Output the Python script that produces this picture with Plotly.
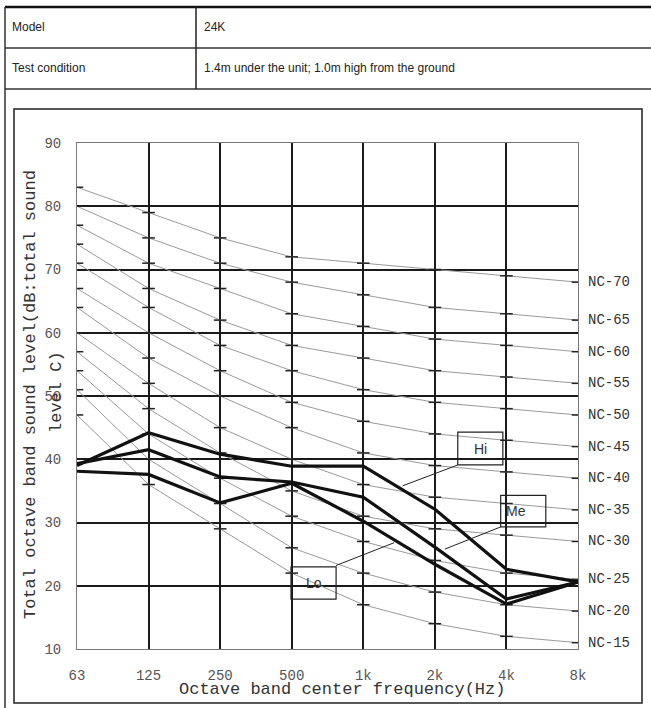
import plotly.graph_objects as go

# octave band centres
bands = ["63", "125", "250", "500", "1k", "2k", "4k", "8k"]

# measured levels per fan speed (dB)
hi_levels = [39.0, 44.2, 40.8, 38.9, 38.9, 32.1, 22.6, 20.6]
me_levels = [39.3, 41.5, 37.2, 36.4, 34.0, 26.1, 17.9, 20.6]
lo_levels = [38.1, 37.6, 33.1, 36.2, 30.2, 23.4, 17.1, 20.6]

# NC reference curves
nc_names = ["NC-15", "NC-20", "NC-25", "NC-30", "NC-35", "NC-40",
            "NC-45", "NC-50", "NC-55", "NC-60", "NC-65", "NC-70"]
nc_values = [
    [47, 36, 29, 22, 17, 14, 12, 11],
    [51, 40, 33, 26, 22, 19, 17, 16],
    [54, 44, 37, 31, 27, 24, 22, 21],
    [57, 48, 41, 35, 31, 29, 28, 27],
    [60, 52, 45, 40, 36, 34, 33, 32],
    [64, 56, 50, 45, 41, 39, 38, 37],
    [67, 60, 54, 49, 46, 44, 43, 42],
    [71, 64, 58, 54, 51, 49, 48, 47],
    [74, 67, 62, 58, 56, 54, 53, 52],
    [77, 71, 67, 63, 61, 59, 58, 57],
    [80, 75, 71, 68, 66, 64, 63, 62],
    [83, 79, 75, 72, 71, 70, 69, 68],
]

W, H = 651, 708
L, R, T, B = 77, 578, 143, 649
MONO = "Liberation Mono"


def px(x):
    return (x - L) / (R - L)


def py(y):
    return (B - y) / (B - T)


xs = list(range(len(bands)))
traces = []
for name, vals in zip(nc_names, nc_values):
    traces.append(go.Scatter(x=xs, y=vals, mode="lines", name=name,
                             line={"color": "#9a9a9a", "width": 1}))
    # little dashes on the vertical lines
    traces.append(go.Scatter(x=xs, y=vals, mode="markers",
                             marker={"symbol": "line-ew", "size": 9,
                                     "line": {"color": "#222", "width": 1.5}}))

for name, vals in [("Hi", hi_levels), ("Me", me_levels), ("Lo", lo_levels)]:
    traces.append(go.Scatter(x=xs, y=vals, mode="lines", name=name,
                             line={"color": "#111", "width": 3.2}))

fig = go.Figure(data=traces)

shapes = []
# page table / frame
line = lambda x0, y0, x1, y1, w, c: dict(type="line", xref="paper", yref="paper",
                                          x0=px(x0), y0=py(y0), x1=px(x1), y1=py(y1),
                                          line={"color": c, "width": w})
shapes.append(line(5, 7, 651, 7, 2.5, "#111"))
shapes.append(line(5, 48, 651, 48, 1.5, "#333"))
shapes.append(line(5, 89, 651, 89, 1.5, "#333"))
shapes.append(line(196, 7, 196, 89, 1.5, "#222"))
shapes.append(line(5, 7, 5, 708, 1.5, "#333"))
shapes.append(dict(type="rect", xref="paper", yref="paper",
                   x0=px(14), y0=py(109), x1=px(642), y1=py(703),
                   line={"color": "#222", "width": 1.5}))

# speed label boxes with leader lines (data coords)
boxes = [
    ("Hi", 5.32, 5.95, 39.1, 44.3, (5.32, 39.1), (4.55, 35.8), "center"),
    ("Me", 5.92, 6.55, 29.3, 34.3, (5.92, 29.3), (5.14, 25.8), "left"),
    ("Lo", 2.99, 3.62, 17.9, 23.0, (3.62, 23.2), (4.43, 26.8), "center"),
]
annotations = []
for text, x0, x1, y0, y1, p0, p1, align in boxes:
    shapes.append(dict(type="rect", xref="x", yref="y", x0=x0, x1=x1, y0=y0, y1=y1,
                       line={"color": "#222", "width": 1.2}, fillcolor="rgba(0,0,0,0)"))
    shapes.append(dict(type="line", xref="x", yref="y", x0=p0[0], y0=p0[1],
                       x1=p1[0], y1=p1[1], line={"color": "#222", "width": 1}))
    annotations.append(dict(x=(x0 + 0.05) if align == "left" else (x0 + x1) / 2,
                            y=(y0 + y1) / 2, xref="x", yref="y", text=text,
                            showarrow=False,
                            xanchor="left" if align == "left" else "center",
                            font={"family": "Liberation Sans", "size": 14, "color": "#333"}))

for name, vals in zip(nc_names, nc_values):
    annotations.append(dict(x=7, y=vals[-1], xref="x", yref="y", text=name,
                            showarrow=False, xanchor="left", xshift=8,
                            font={"family": MONO, "size": 14, "color": "#333"}))

# table texts
tfont = {"family": "Liberation Sans", "size": 12, "color": "#222"}
for t, x, y in [("Model", 10, 27), ("24K", 202, 27), ("Test condition", 10, 68),
                ("1.4m under the unit; 1.0m high from the ground", 202, 68)]:
    annotations.append(dict(x=px(x), y=py(y), xref="paper", yref="paper", text=t,
                            showarrow=False, xanchor="left", yanchor="middle", font=tfont))

# axis titles
annotations.append(dict(x=px(30), y=py(395), xref="paper", yref="paper",
                        text="Total octave band sound level(dB:total sound",
                        textangle=-90, showarrow=False, xanchor="center", yanchor="middle",
                        font={"family": MONO, "size": 17, "color": "#333"}))
annotations.append(dict(x=px(56), y=py(392), xref="paper", yref="paper",
                        text="level C)", textangle=-90, showarrow=False,
                        xanchor="center", yanchor="middle",
                        font={"family": MONO, "size": 17, "color": "#333"}))
annotations.append(dict(x=px(342), y=py(689), xref="paper", yref="paper",
                        text="Octave band center frequency(Hz)", showarrow=False,
                        xanchor="center", yanchor="middle",
                        font={"family": MONO, "size": 17, "color": "#333"}))

fig.update_layout(
    width=W, height=H,
    margin={"l": L, "r": W - R, "t": T, "b": H - B, "pad": 0},
    paper_bgcolor="white", plot_bgcolor="white",
    showlegend=False,
    shapes=shapes,
    annotations=annotations,
    xaxis={"range": [0, 7], "tickvals": xs, "ticktext": bands,
           "showgrid": True, "gridcolor": "#1a1a1a", "gridwidth": 1.5,
           "zeroline": False, "showline": True, "linecolor": "#777", "mirror": True,
           "ticks": "", "ticklabelstandoff": 13,
           "tickfont": {"family": MONO, "size": 14, "color": "#555"}},
    yaxis={"range": [10, 90], "dtick": 10,
           "showgrid": True, "gridcolor": "#1a1a1a", "gridwidth": 1.5,
           "zeroline": False, "showline": True, "linecolor": "#777", "mirror": True,
           "ticks": "", "ticklabelstandoff": 12,
           "tickfont": {"family": MONO, "size": 14, "color": "#555"}},
)

fig.write_html("out.html", config={"displayModeBar": False},
               post_script="document.body.style.margin='0';")
